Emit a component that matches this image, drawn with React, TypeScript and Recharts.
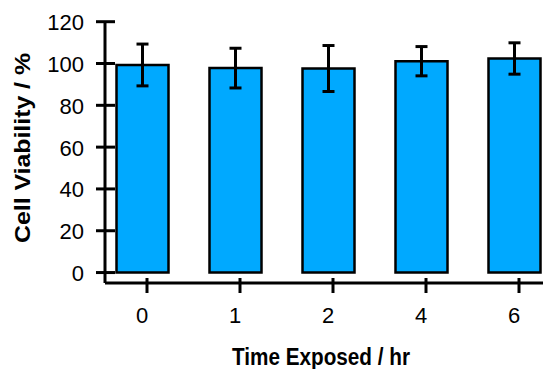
import React from 'react';
import { BarChart, Bar, XAxis, YAxis, ErrorBar, Label } from 'recharts';

const hours = ['0', '1', '2', '4', '6'];
const viability = [99.3, 97.8, 97.6, 101.1, 102.4];
const errors = [10, 9.5, 11, 7, 7.5];
const yTicks = [0, 20, 40, 60, 80, 100, 120];

const data = hours.map((t, i) => ({ t, v: viability[i], e: errors[i] }));

const FONT = '"Liberation Sans", Arial, sans-serif';

const YTick = (props: any) => {
  const { x, y, payload } = props;
  return (
    <g>
      <line x1={x - 9} x2={x + 10} y1={y} y2={y} stroke="#000" strokeWidth={3} />
      <text x={x - 21} y={y + 8.5} textAnchor="end" fontSize={22} fontFamily={FONT} fill="#000">
        {payload.value}
      </text>
    </g>
  );
};

const XTick = (props: any) => {
  const { x, y, payload } = props;
  return (
    <g>
      <line x1={x + 5} x2={x + 5} y1={y - 5} y2={y + 10} stroke="#000" strokeWidth={3} />
      <text x={x} y={y + 39.5} textAnchor="middle" fontSize={22} fontFamily={FONT} fill="#000">
        {payload.value}
      </text>
    </g>
  );
};

export default function App() {
  return (
    <div style={{ position: 'absolute', left: 0, top: 0, width: 543, height: 369, overflow: 'hidden', background: '#fff' }}>
      <BarChart width={543} height={369} data={data} margin={{ top: 21.7, right: 0, bottom: 26, left: 0 }}>
        <XAxis
          dataKey="t"
          type="category"
          interval={0}
          height={60}
          padding={{ left: -9.5, right: -17.5 }}
          axisLine={{ stroke: '#000', strokeWidth: 3 }}
          tickLine={false}
          tickSize={0}
          tickMargin={0}
          tick={<XTick />}
        >
          <Label
            content={() => (
              <text
                x={321}
                y={365}
                textAnchor="middle"
                fontSize={23}
                fontWeight="bold"
                fontFamily={FONT}
                fill="#000"
                textLength={178}
                lengthAdjust="spacingAndGlyphs"
              >
                Time Exposed / hr
              </text>
            )}
          />
        </XAxis>
        <YAxis
          type="number"
          domain={[-5, 120]}
          ticks={yTicks}
          interval={0}
          width={105}
          axisLine={{ stroke: '#000', strokeWidth: 3 }}
          tickLine={false}
          tickSize={0}
          tickMargin={0}
          tick={<YTick />}
        >
          <Label
            content={() => (
              <text
                x={30}
                y={148}
                transform="rotate(-90 30 148)"
                textAnchor="middle"
                fontSize={22}
                fontWeight="bold"
                fontFamily={FONT}
                fill="#000"
                textLength={190}
                lengthAdjust="spacingAndGlyphs"
              >
                Cell Viability / %
              </text>
            )}
          />
        </YAxis>
        <Bar dataKey="v" fill="#00A9FF" stroke="#000" strokeWidth={2.5} barSize={52} isAnimationActive={false}>
          <ErrorBar dataKey="e" width={6} stroke="#000" strokeWidth={3} isAnimationActive={false} />
        </Bar>
      </BarChart>
    </div>
  );
}
